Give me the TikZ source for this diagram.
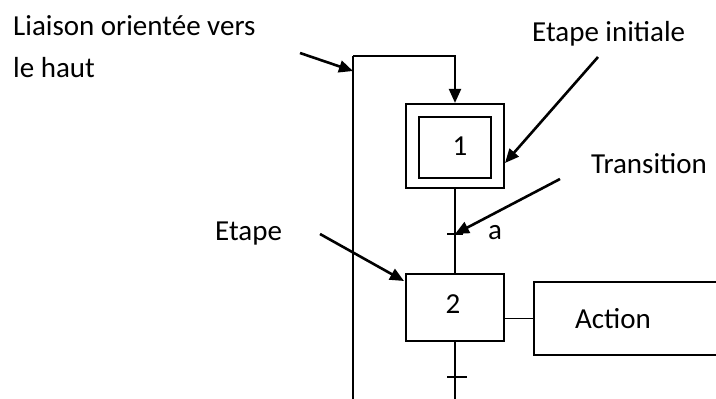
\documentclass[tikz,border=0pt]{standalone}
\usepackage{fontspec}
\setmainfont{Carlito}
\usepackage{tikz}
\usetikzlibrary{arrows.meta,positioning}

\begin{document}
\begin{tikzpicture}[x=1pt, y=-1pt, every node/.style={font=\fontsize{29pt}{42pt}\selectfont},
  stepbox/.style={rectangle, draw, line width=2.2pt, inner sep=0pt},
  label/.style={inner sep=0pt, anchor=base west},
  flow/.style={line width=2.6pt, -{Triangle[length=14pt, width=12pt]}},
  link/.style={line width=2.2pt}]
\useasboundingbox[fill=white] (0,0) rectangle (716,399);
% steps
\node[stepbox, minimum width=98pt, minimum height=84pt] (step1) at (455,146) {};
\node[stepbox, minimum width=72pt, minimum height=61pt] (step1in) at (455,147.5) {};
\node[inner sep=0pt, anchor=base] (num1) at (460,155) {1};
\node[stepbox, minimum width=98pt, minimum height=67pt] (step2) at (455,307.5) {};
\node[inner sep=0pt, anchor=base] (num2) at (453,313) {2};
\node[stepbox, anchor=west, minimum height=73pt, text width=140pt, inner xsep=41pt, align=left] (action) at (533,318.5) {Action};
% labels
\node[label, align=left] (liaison) at (13,77) {Liaison orientée vers\\le haut};
\node[label] (etapeinit) at (532,41) {Etape initiale};
\node[label] (transition) at (591,173) {Transition};
\node[label] (etape) at (215,240) {Etape};
\node[label] (recept) at (488,239) {a};
% points on the links
\coordinate (loopbot) at (353,399);
\coordinate (loopcorner) at (353,56);
\coordinate (looptip) at (353,71);
\coordinate (tr1) at (455,234);
\coordinate (tr2) at (455,377);
\coordinate (down) at (455,399);
\coordinate (liaisonfrom) at (300,53);
\coordinate (initfrom) at (598,57);
\coordinate (inittip) at (505,163);
\coordinate (transfrom) at (560,179);
\coordinate (etapefrom) at (320,234);
\coordinate (etapetip) at (404,281);
% links
\draw[link] (loopbot) -- (loopcorner);
\draw[flow, line width=2.2pt] (loopcorner) -| (step1.north);
\draw[link] (step1.south) -- (step2.north);
\draw[link] (step2.south) -- (down);
\draw[link] ([xshift=-8pt]tr1) -- ([xshift=8pt]tr1);
\draw[link] ([xshift=-8pt]tr2) -- ([xshift=12pt]tr2);
\draw[line width=1.6pt] (step2.east |- action.west) -- (action.west);
% pointers
\draw[flow] (liaisonfrom) -- (looptip);
\draw[flow] (initfrom) -- (inittip);
\draw[flow] (transfrom) -- (tr1);
\draw[flow] (etapefrom) -- (etapetip);
\end{tikzpicture}
\end{document}
